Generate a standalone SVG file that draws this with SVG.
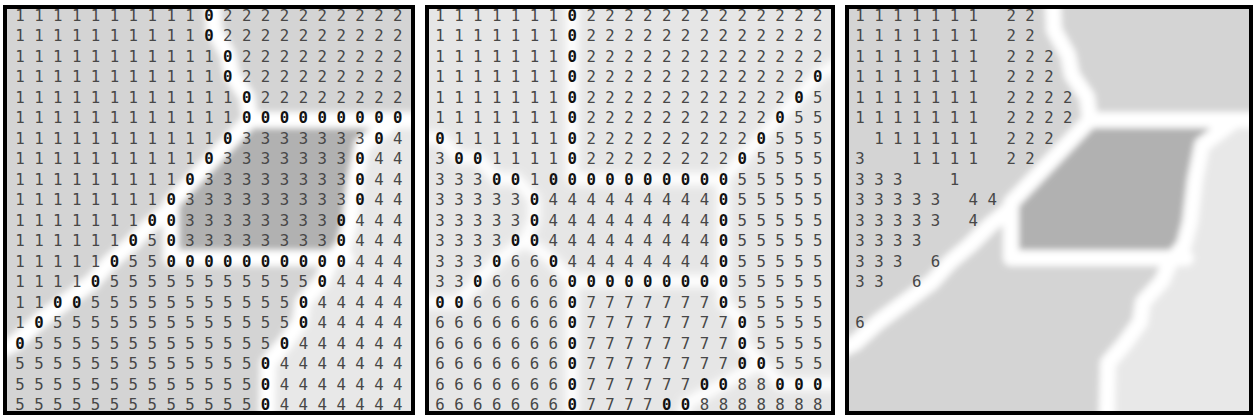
<svg xmlns="http://www.w3.org/2000/svg" xmlns:xlink="http://www.w3.org/1999/xlink" width="1253" height="418" viewBox="0 0 1253 418">
<style>
.d{font-family:"DejaVu Sans Mono","Liberation Mono",monospace;font-size:15.7px;fill:#474747}
.d text{white-space:pre}
.z{font-weight:bold;fill:#111}
.band{fill:none;stroke:#fff;stroke-linejoin:round;stroke-linecap:round}
.frame{fill:none;stroke:#000;stroke-width:4}
</style>
<defs>
<filter id="bl" x="-10%" y="-10%" width="120%" height="120%"><feGaussianBlur stdDeviation="3"/></filter>
<filter id="bl2" x="-10%" y="-10%" width="120%" height="120%"><feGaussianBlur stdDeviation="4"/></filter>
<clipPath id="c1"><rect x="7" y="9" width="404" height="402"/></clipPath>
<clipPath id="c2"><rect x="429" y="9" width="402" height="402"/></clipPath>
<clipPath id="c3"><rect x="849" y="9" width="400" height="402"/></clipPath>
<g id="img">
<rect x="-30" y="-30" width="480" height="480" fill="#d4d4d4"/>
<polygon points="250,120 392,120 362,145 352,200 346,258 171,258 171,203" fill="#b1b1b1"/>
<polygon points="392,118 450,118 450,450 266,450 266,375 275,350 300,322 303,302 322,281 330,262 346,245 350,210 356,170 362,145" fill="#e8e8e8"/>
<g class="band" stroke-width="16">
<polyline points="212,-20 214,30 228,55 232,75 247,97 250,120"/>
<polyline points="250,120 450,120"/>
<polyline points="250,120 171,203 171,258 346,258"/>
<polyline points="171,208 150,225 130,245 110,262 92,282 65,302 38,322 15,343 -20,360"/>
<polyline points="395,120 362,145 355,180 350,222 344,245 330,262 322,281 303,302 300,322 285,343 268,363 266,450"/>
</g>
</g>
</defs>

<g id="panel1-bg" clip-path="url(#c1)"><use xlink:href="#img" href="#img" filter="url(#bl)"/></g>

<g id="panel2-bg" clip-path="url(#c2)">
<g filter="url(#bl2)">
<rect x="400" y="-30" width="460" height="480" fill="#e6e6e6"/>
<g class="band" stroke-width="12" transform="translate(420 0)">
<polyline points="152,-20 152,179 303,179"/>
<polyline points="-20,138 20,138 39,158 58,158 77,179 96,179 114,199 114,220 105,240 77,261 58,281 39,302 -20,302"/>
<polyline points="105,240 133,261 152,281 303,281"/>
<polyline points="152,281 152,450"/>
<polyline points="440,50 398,76 379,97 360,117 341,138 322,158 303,179 303,302 322,322 322,343 341,363 303,384 266,404 256,450"/>
<polyline points="341,363 360,384 440,384"/>
</g>
</g>
</g>

<g id="panel3-bg" clip-path="url(#c3)"><use xlink:href="#img" href="#img" transform="translate(840 0)" filter="url(#bl)"/></g>

<g id="panel1-labels" class="d">
<text x="15.27" y="20.7">1 1 1 1 1 1 1 1 1 1 <tspan class="z">0</tspan> 2 2 2 2 2 2 2 2 2 2</text>
<text x="15.27" y="41.2">1 1 1 1 1 1 1 1 1 1 <tspan class="z">0</tspan> 2 2 2 2 2 2 2 2 2 2</text>
<text x="15.27" y="61.7">1 1 1 1 1 1 1 1 1 1 1 <tspan class="z">0</tspan> 2 2 2 2 2 2 2 2 2</text>
<text x="15.27" y="82.2">1 1 1 1 1 1 1 1 1 1 1 <tspan class="z">0</tspan> 2 2 2 2 2 2 2 2 2</text>
<text x="15.27" y="102.7">1 1 1 1 1 1 1 1 1 1 1 1 <tspan class="z">0</tspan> 2 2 2 2 2 2 2 2</text>
<text x="15.27" y="123.2">1 1 1 1 1 1 1 1 1 1 1 1 <tspan class="z">0 0 0 0 0 0 0 0 0</tspan></text>
<text x="15.27" y="143.7">1 1 1 1 1 1 1 1 1 1 1 <tspan class="z">0</tspan> 3 3 3 3 3 3 3 <tspan class="z">0</tspan> 4</text>
<text x="15.27" y="164.2">1 1 1 1 1 1 1 1 1 1 <tspan class="z">0</tspan> 3 3 3 3 3 3 3 <tspan class="z">0</tspan> 4 4</text>
<text x="15.27" y="184.7">1 1 1 1 1 1 1 1 1 <tspan class="z">0</tspan> 3 3 3 3 3 3 3 3 <tspan class="z">0</tspan> 4 4</text>
<text x="15.27" y="205.2">1 1 1 1 1 1 1 1 <tspan class="z">0</tspan> 3 3 3 3 3 3 3 3 3 <tspan class="z">0</tspan> 4 4</text>
<text x="15.27" y="225.7">1 1 1 1 1 1 1 <tspan class="z">0 0</tspan> 3 3 3 3 3 3 3 3 <tspan class="z">0</tspan> 4 4 4</text>
<text x="15.27" y="246.2">1 1 1 1 1 1 <tspan class="z">0</tspan> 5 <tspan class="z">0</tspan> 3 3 3 3 3 3 3 3 <tspan class="z">0</tspan> 4 4 4</text>
<text x="15.27" y="266.7">1 1 1 1 1 <tspan class="z">0</tspan> 5 5 <tspan class="z">0 0 0 0 0 0 0 0 0 0</tspan> 4 4 4</text>
<text x="15.27" y="287.2">1 1 1 1 <tspan class="z">0</tspan> 5 5 5 5 5 5 5 5 5 5 5 <tspan class="z">0</tspan> 4 4 4 4</text>
<text x="15.27" y="307.7">1 1 <tspan class="z">0 0</tspan> 5 5 5 5 5 5 5 5 5 5 5 <tspan class="z">0</tspan> 4 4 4 4 4</text>
<text x="15.27" y="328.2">1 <tspan class="z">0</tspan> 5 5 5 5 5 5 5 5 5 5 5 5 5 <tspan class="z">0</tspan> 4 4 4 4 4</text>
<text x="15.27" y="348.7"><tspan class="z">0</tspan> 5 5 5 5 5 5 5 5 5 5 5 5 5 <tspan class="z">0</tspan> 4 4 4 4 4 4</text>
<text x="15.27" y="369.2">5 5 5 5 5 5 5 5 5 5 5 5 5 <tspan class="z">0</tspan> 4 4 4 4 4 4 4</text>
<text x="15.27" y="389.7">5 5 5 5 5 5 5 5 5 5 5 5 5 <tspan class="z">0</tspan> 4 4 4 4 4 4 4</text>
<text x="15.27" y="410.2">5 5 5 5 5 5 5 5 5 5 5 5 5 <tspan class="z">0</tspan> 4 4 4 4 4 4 4</text>
</g>

<g id="panel2-labels" class="d">
<text x="435.27" y="20.7">1 1 1 1 1 1 1 <tspan class="z">0</tspan> 2 2 2 2 2 2 2 2 2 2 2 2 2</text>
<text x="435.27" y="41.2">1 1 1 1 1 1 1 <tspan class="z">0</tspan> 2 2 2 2 2 2 2 2 2 2 2 2 2</text>
<text x="435.27" y="61.7">1 1 1 1 1 1 1 <tspan class="z">0</tspan> 2 2 2 2 2 2 2 2 2 2 2 2 2</text>
<text x="435.27" y="82.2">1 1 1 1 1 1 1 <tspan class="z">0</tspan> 2 2 2 2 2 2 2 2 2 2 2 2 <tspan class="z">0</tspan></text>
<text x="435.27" y="102.7">1 1 1 1 1 1 1 <tspan class="z">0</tspan> 2 2 2 2 2 2 2 2 2 2 2 <tspan class="z">0</tspan> 5</text>
<text x="435.27" y="123.2">1 1 1 1 1 1 1 <tspan class="z">0</tspan> 2 2 2 2 2 2 2 2 2 2 <tspan class="z">0</tspan> 5 5</text>
<text x="435.27" y="143.7"><tspan class="z">0</tspan> 1 1 1 1 1 1 <tspan class="z">0</tspan> 2 2 2 2 2 2 2 2 2 <tspan class="z">0</tspan> 5 5 5</text>
<text x="435.27" y="164.2">3 <tspan class="z">0 0</tspan> 1 1 1 1 <tspan class="z">0</tspan> 2 2 2 2 2 2 2 2 <tspan class="z">0</tspan> 5 5 5 5</text>
<text x="435.27" y="184.7">3 3 3 <tspan class="z">0 0</tspan> 1 <tspan class="z">0 0 0 0 0 0 0 0 0 0</tspan> 5 5 5 5 5</text>
<text x="435.27" y="205.2">3 3 3 3 3 <tspan class="z">0</tspan> 4 4 4 4 4 4 4 4 4 <tspan class="z">0</tspan> 5 5 5 5 5</text>
<text x="435.27" y="225.7">3 3 3 3 3 <tspan class="z">0</tspan> 4 4 4 4 4 4 4 4 4 <tspan class="z">0</tspan> 5 5 5 5 5</text>
<text x="435.27" y="246.2">3 3 3 3 <tspan class="z">0 0</tspan> 4 4 4 4 4 4 4 4 4 <tspan class="z">0</tspan> 5 5 5 5 5</text>
<text x="435.27" y="266.7">3 3 3 <tspan class="z">0</tspan> 6 6 <tspan class="z">0</tspan> 4 4 4 4 4 4 4 4 <tspan class="z">0</tspan> 5 5 5 5 5</text>
<text x="435.27" y="287.2">3 3 <tspan class="z">0</tspan> 6 6 6 6 <tspan class="z">0 0 0 0 0 0 0 0 0</tspan> 5 5 5 5 5</text>
<text x="435.27" y="307.7"><tspan class="z">0 0</tspan> 6 6 6 6 6 <tspan class="z">0</tspan> 7 7 7 7 7 7 7 <tspan class="z">0</tspan> 5 5 5 5 5</text>
<text x="435.27" y="328.2">6 6 6 6 6 6 6 <tspan class="z">0</tspan> 7 7 7 7 7 7 7 7 <tspan class="z">0</tspan> 5 5 5 5</text>
<text x="435.27" y="348.7">6 6 6 6 6 6 6 <tspan class="z">0</tspan> 7 7 7 7 7 7 7 7 <tspan class="z">0</tspan> 5 5 5 5</text>
<text x="435.27" y="369.2">6 6 6 6 6 6 6 <tspan class="z">0</tspan> 7 7 7 7 7 7 7 7 <tspan class="z">0 0</tspan> 5 5 5</text>
<text x="435.27" y="389.7">6 6 6 6 6 6 6 <tspan class="z">0</tspan> 7 7 7 7 7 7 <tspan class="z">0 0</tspan> 8 8 <tspan class="z">0 0 0</tspan></text>
<text x="435.27" y="410.2">6 6 6 6 6 6 6 <tspan class="z">0</tspan> 7 7 7 7 <tspan class="z">0 0</tspan> 8 8 8 8 8 8 8</text>
</g>

<g id="panel3-markers" class="d">
<text x="855.27" y="20.7">1 1 1 1 1 1 1   2 2</text>
<text x="855.27" y="41.2">1 1 1 1 1 1 1   2 2</text>
<text x="855.27" y="61.7">1 1 1 1 1 1 1   2 2 2</text>
<text x="855.27" y="82.2">1 1 1 1 1 1 1   2 2 2</text>
<text x="855.27" y="102.7">1 1 1 1 1 1 1   2 2 2 2</text>
<text x="855.27" y="123.2">1 1 1 1 1 1 1   2 2 2 2</text>
<text x="855.27" y="143.7">  1 1 1 1 1 1   2 2 2</text>
<text x="855.27" y="164.2">3     1 1 1 1   2 2</text>
<text x="855.27" y="184.7">3 3 3     1</text>
<text x="855.27" y="205.2">3 3 3 3 3   4 4</text>
<text x="855.27" y="225.7">3 3 3 3 3   4</text>
<text x="855.27" y="246.2">3 3 3 3</text>
<text x="855.27" y="266.7">3 3 3   6</text>
<text x="855.27" y="287.2">3 3   6</text>
<text x="855.27" y="328.2">6</text>
</g>

<g id="frames">
<rect class="frame" x="5" y="7" width="408" height="406"/>
<rect class="frame" x="427" y="7" width="406" height="406"/>
<rect class="frame" x="847" y="7" width="404" height="406"/>
</g>
</svg>
